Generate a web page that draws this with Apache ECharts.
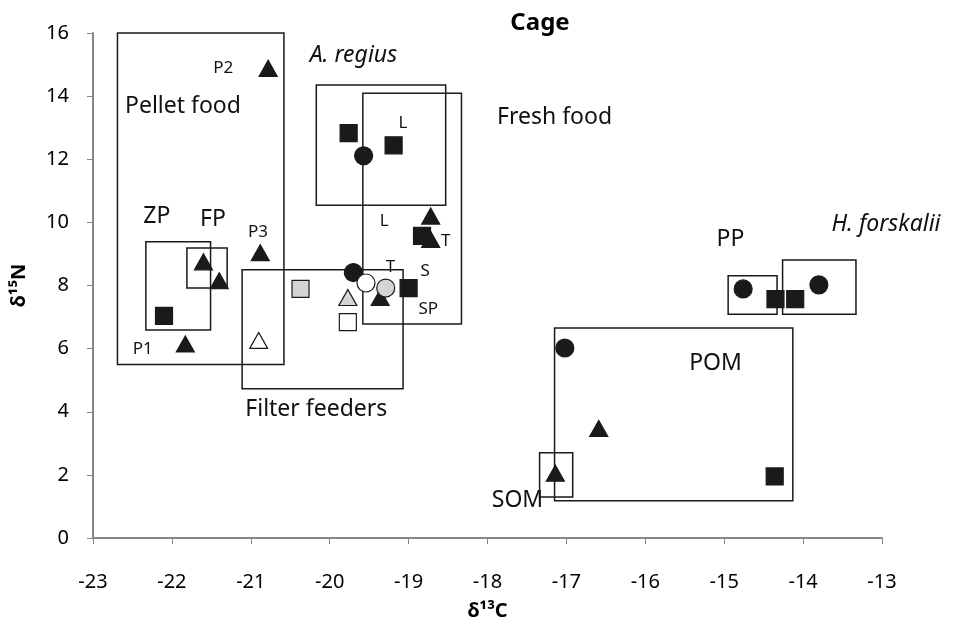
<!DOCTYPE html>
<html>
<head>
<meta charset="utf-8">
<script src="https://cdn.jsdelivr.net/npm/echarts@6/dist/echarts.min.js"></script>
<style>
  html, body { margin: 0; padding: 0; background: #fff; }
  #chart { width: 953px; height: 626px; }
</style>
</head>
<body>
<div id="chart"></div>
<script>
// Group boxes: [xLeft, yTop, xRight, yBottom]
const boxes = [
  [-22.69, 16.0, -20.58, 5.5],   // Pellet food
  [-20.17, 14.35, -18.53, 10.54], // A. regius
  [-19.58, 14.09, -18.33, 6.78],  // Fresh food
  [-22.33, 9.39, -21.51, 6.59],   // ZP
  [-21.81, 9.19, -21.30, 7.92],   // FP
  [-21.11, 8.50, -19.07, 4.73],   // Filter feeders
  [-14.95, 8.31, -14.33, 7.09],   // PP
  [-14.26, 8.81, -13.33, 7.09],   // H. forskalii
  [-17.15, 6.65, -14.13, 1.18],   // POM
  [-17.34, 2.70, -16.92, 1.30]    // SOM
];

// Points [d13C, d15N]
const blackTriangles = [
  [-20.78, 14.88], [-20.88, 9.04], [-21.60, 8.75], [-21.40, 8.15], [-21.83, 6.15],
  [-18.72, 10.20], [-18.72, 9.46], [-19.36, 7.62], [-16.59, 3.47], [-17.14, 2.05]
];
const blackCircles = [
  [-19.57, 12.11], [-19.70, 8.41], [-14.76, 7.89], [-13.80, 8.02], [-17.02, 6.02]
];
const openCircles = [[-19.54, 8.08]];
const grayCircles = [[-19.29, 7.92]];
const grayTriangles = [[-19.77, 7.62]];
const graySquares = [[-20.37, 7.89]];
const openSquares = [[-19.77, 6.84]];
const openTriangles = [[-20.90, 6.26]];
const blackSquares = [
  [-22.10, 7.04], [-19.76, 12.83], [-19.19, 12.44], [-18.83, 9.57], [-19.00, 7.92],
  [-14.35, 7.57], [-14.10, 7.57], [-14.36, 1.95]
];

// Text annotations [x, y, text]
const bigLabels = [
  [-21.86, 13.66, 'Pellet food'],
  [-17.15, 13.31, 'Fresh food'],
  [-22.19, 10.19, 'ZP'],
  [-21.48, 10.09, 'FP'],
  [-20.17, 4.07, 'Filter feeders'],
  [-14.92, 9.46, 'PP'],
  [-15.11, 5.52, 'POM'],
  [-17.62, 1.20, 'SOM']
];
const smallLabels = [
  [-21.35, 14.89, 'P2'],
  [-20.91, 9.68, 'P3'],
  [-22.37, 5.99, 'P1'],
  [-19.07, 13.15, 'L'],
  [-19.31, 10.03, 'L'],
  [-18.53, 9.40, 'T'],
  [-19.23, 8.58, 'T'],
  [-18.79, 8.45, 'S'],
  [-18.75, 7.26, 'SP']
];
const italicLabels = [
  [-19.70, 15.28, 'A. regius'],
  [-12.95, 9.94, 'H. forskalii']
];

const FONT = '"Noto Sans", "Liberation Sans", sans-serif';
const chart = echarts.init(document.getElementById('chart'));

const markerSeries = (data, symbol, fill, size) => ({
  type: 'scatter',
  data: data,
  symbol: symbol,
  symbolSize: size,
  itemStyle: { color: fill, borderColor: '#1a1a1a', borderWidth: 1.2, opacity: 1 },
  emphasis: { disabled: true },
  silent: true
});

const textSeries = (data, size, style) => ({
  type: 'custom',
  data: data,
  silent: true,
  clip: false,
  renderItem: (params, api) => {
    const p = api.coord([api.value(0), api.value(1)]);
    return {
      type: 'text',
      x: p[0],
      y: p[1],
      style: {
        text: data[params.dataIndex][2],
        fontSize: size,
        fontStyle: style,
        fontFamily: FONT,
        fill: '#111',
        align: 'center',
        verticalAlign: 'middle'
      }
    };
  },
  z: 10
});

const option = {
  animation: false,
  title: {
    text: 'Cage',
    left: 535,
    top: 6,
    textAlign: 'center',
    textStyle: { fontFamily: FONT, fontSize: 24, fontWeight: 'bold', color: '#000' }
  },
  grid: { left: 93, right: 71, top: 33, bottom: 86 },
  xAxis: {
    type: 'value',
    min: -23,
    max: -13,
    interval: 1,
    name: 'δ¹³C',
    nameLocation: 'middle',
    nameGap: 63,
    nameTextStyle: { fontFamily: FONT, fontSize: 20, fontWeight: 'bold', color: '#000' },
    axisLine: { onZero: false, lineStyle: { color: '#868686', width: 2 } },
    axisTick: { show: true, inside: false, length: 6, lineStyle: { color: '#868686' } },
    axisLabel: { fontFamily: FONT, fontSize: 20, color: '#000', margin: 34 },
    splitLine: { show: false }
  },
  yAxis: {
    type: 'value',
    min: 0,
    max: 16,
    interval: 2,
    name: 'δ¹⁵N',
    nameLocation: 'middle',
    nameGap: 64,
    nameRotate: 90,
    nameTextStyle: { fontFamily: FONT, fontSize: 20, fontWeight: 'bold', color: '#000' },
    axisLine: { show: true, onZero: false, lineStyle: { color: '#868686', width: 2 } },
    axisTick: { show: true, inside: false, length: 6, lineStyle: { color: '#868686' } },
    axisLabel: { fontFamily: FONT, fontSize: 20, color: '#000', margin: 24 },
    splitLine: { show: false }
  },
  series: [
    {
      type: 'custom',
      data: boxes,
      silent: true,
      clip: false,
      encode: { x: [0, 2], y: [1, 3] },
      renderItem: (params, api) => {
        const p1 = api.coord([api.value(0), api.value(1)]);
        const p2 = api.coord([api.value(2), api.value(3)]);
        return {
          type: 'rect',
          shape: { x: p1[0], y: p1[1], width: p2[0] - p1[0], height: p2[1] - p1[1] },
          style: { fill: 'none', stroke: '#1a1a1a', lineWidth: 1.5 }
        };
      }
    },
    markerSeries(blackTriangles, 'triangle', '#1a1a1a', [18, 16]),
    markerSeries(blackCircles, 'circle', '#1a1a1a', 18),
    markerSeries(openCircles, 'circle', '#ffffff', 18),
    markerSeries(grayCircles, 'circle', '#d4d4d4', 18),
    markerSeries(grayTriangles, 'triangle', '#d4d4d4', [18, 16]),
    markerSeries(graySquares, 'rect', '#d4d4d4', 17),
    markerSeries(openSquares, 'rect', '#ffffff', 17),
    markerSeries(openTriangles, 'triangle', '#ffffff', [18, 16]),
    markerSeries(blackSquares, 'rect', '#1a1a1a', 17),
    textSeries(bigLabels, 23, 'normal'),
    textSeries(smallLabels, 17, 'normal'),
    textSeries(italicLabels, 23, 'italic')
  ]
};

chart.setOption(option);
window.addEventListener('resize', () => chart.resize());
</script>
</body>
</html>
